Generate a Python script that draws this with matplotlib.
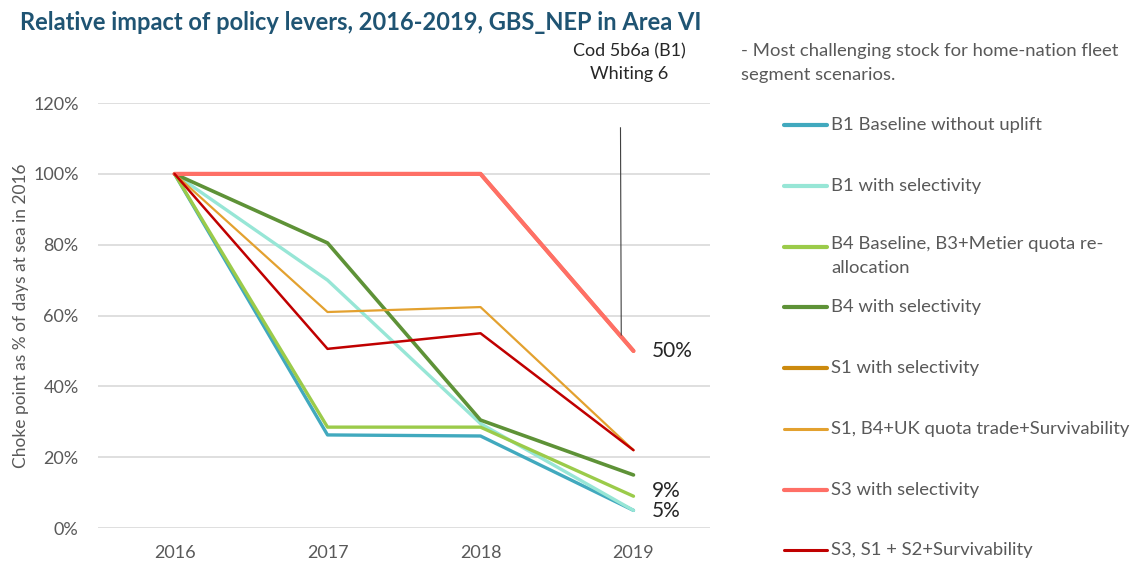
import matplotlib.pyplot as plt
from matplotlib.lines import Line2D

plt.rcParams['font.family'] = ['Lato', 'DejaVu Sans']

years = ['2016', '2017', '2018', '2019']

labels = [
    'B1 Baseline without uplift',
    'B1 with selectivity',
    'B4 Baseline, B3+Metier quota re-\nallocation',
    'B4 with selectivity',
    'S1 with selectivity',
    'S1, B4+UK quota trade+Survivability',
    'S3 with selectivity',
    'S3, S1 + S2+Survivability',
]

b1_base = [1.00, 0.263, 0.260, 0.05]
b1_sel = [1.00, 0.70, 0.295, 0.05]
b4_base = [1.00, 0.285, 0.285, 0.09]
b4_sel = [1.00, 0.805, 0.305, 0.15]
s1_sel = [1.00, 1.00, 1.00, 0.50]
s1_uk = [1.00, 0.61, 0.624, 0.22]
s3_sel = [1.00, 1.00, 1.00, 0.50]
s3_s1s2 = [1.00, 0.506, 0.55, 0.22]

series = [b1_base, b1_sel, b4_base, b4_sel, s1_sel, s1_uk, s3_sel, s3_s1s2]
colors = ['#41A9BE', '#97E6D6', '#9BCB4A', '#5E9237', '#CC8A0E', '#E3A12F', '#FF6F66', '#C00000']
widths = [2.4, 2.4, 2.4, 2.6, 2.6, 1.6, 3.0, 1.8]

# end-point labels
end_labels = ['50%', '9%', '5%']

grey = '#595959'

fig = plt.figure(figsize=(11.32, 5.63), dpi=100)
ax = fig.add_axes([0.0866, 0.062, 0.5406, 0.755])

x = range(len(years))
for vals, c, w in zip(series, colors, widths):
    ax.plot(x, vals, color=c, lw=w, solid_capstyle='round', solid_joinstyle='round')

ax.set_xlim(-0.5, 3.5)
ax.set_ylim(0, 1.2)
ax.set_yticks([i / 5 for i in range(7)])
ax.set_yticklabels(['%d%%' % (i * 20) for i in range(7)])
ax.set_xticks(list(x))
ax.set_xticklabels(years)
ax.tick_params(colors=grey, labelsize=13, length=0)
ax.tick_params(axis='x', pad=12)
ax.tick_params(axis='y', pad=14)
ax.grid(axis='y', color='#D9D9D9', lw=1.2)
ax.set_axisbelow(True)
for s in ax.spines.values():
    s.set_visible(False)
ax.set_ylabel('Choke point as % of days at sea in 2016', color=grey, fontsize=12.5, labelpad=3)

# leader line to the 2019 end point
ax.plot([2.915, 2.92], [1.13, 0.545], color='#404040', lw=0.8)

ax.text(3.12, 0.50, end_labels[0], fontsize=15, color='#262626', va='center')
ax.text(3.12, 0.105, end_labels[1], fontsize=15, color='#262626', va='center')
ax.text(3.12, 0.048, end_labels[2], fontsize=15, color='#262626', va='center')

fig.text(0.018, 0.96, 'Relative impact of policy levers, 2016-2019, GBS_NEP in Area VI',
         fontsize=17, fontweight='bold', color='#1F5473', va='center')
fig.text(0.556, 0.909, 'Cod 5b6a (B1)', fontsize=13, color='#262626', ha='center', va='center')
fig.text(0.556, 0.868, 'Whiting 6', fontsize=13, color='#262626', ha='center', va='center')

fig.text(0.655, 0.909, '- Most challenging stock for home-nation fleet', fontsize=13.3, color=grey, va='center')
fig.text(0.655, 0.866, 'segment scenarios.', fontsize=13.3, color=grey, va='center')

# legend drawn by hand
leg_y = [125, 186, 247, 307, 368, 429, 490, 550]
for lab, c, w, yp in zip(labels, colors, widths, leg_y):
    fy = 1 - yp / 563
    lw = 3.0 if w > 2 else 2.2
    fig.add_artist(Line2D([784 / 1132, 827 / 1132], [fy, fy], color=c, lw=lw,
                          solid_capstyle='round', transform=fig.transFigure))
    if '\n' in lab:
        fig.text(831 / 1132, fy + 0.019, lab, fontsize=13.3, color=grey, va='top', linespacing=1.6)
    else:
        fig.text(831 / 1132, fy, lab, fontsize=13.3, color=grey, va='center')

fig.savefig('out.png', dpi=100, facecolor='white')
